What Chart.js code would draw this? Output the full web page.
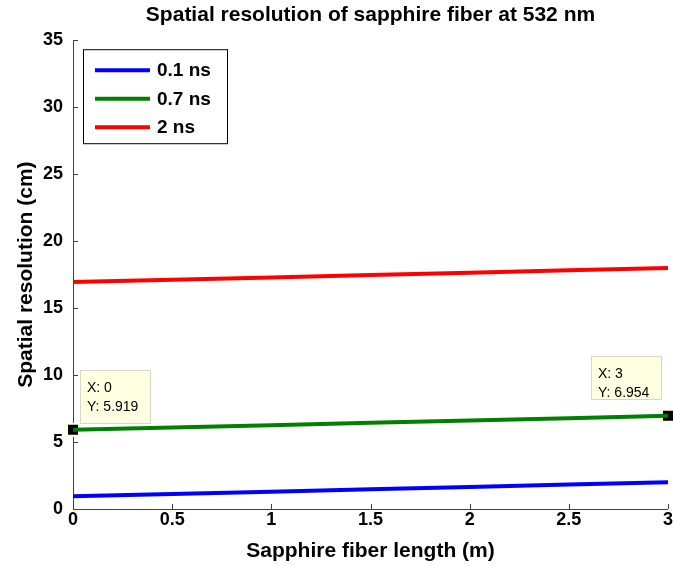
<!DOCTYPE html>
<html>
<head>
<meta charset="utf-8">
<script src="https://cdn.jsdelivr.net/npm/chart.js@4"></script>
<style>
body { margin: 0; background: #fff; }
#wrap { width: 673px; height: 566px; }
</style>
</head>
<body>
<div id="wrap"><canvas id="fiber" width="673" height="566"></canvas></div>
<script>
// fiber length (m) and spatial resolution (cm) per pulse width
const lengths = [0, 0.5, 1, 1.5, 2, 2.5, 3];
const res01ns = [0.95, 1.12, 1.29, 1.47, 1.64, 1.82, 1.99];
const res07ns = [5.919, 6.09, 6.26, 6.44, 6.61, 6.78, 6.954];
const res2ns = [16.95, 17.12, 17.29, 17.47, 17.64, 17.82, 17.99];
const seriesNames = ['0.1 ns', '0.7 ns', '2 ns'];
const seriesColors = ['#0000ff', '#008000', '#ff0000'];

// data cursor points on the 0.7 ns curve
const tipX = [0, 3];
const tipY = [5.919, 6.954];

const FONT = "'Liberation Sans', Arial, sans-serif";
const boldFont = (size) => ({ family: FONT, size: size, weight: 'bold' });

function xy(xs, ys) {
    return xs.map((x, i) => ({ x: x, y: ys[i] }));
}

// axis lines with inward ticks, no box; x labels drawn here so the
// last one may run off the canvas edge instead of shrinking the plot
const axesPlugin = {
    id: 'matlabAxes',
    beforeDatasetsDraw(chart) {
        const ctx = chart.ctx;
        const { left, right, top, bottom } = chart.chartArea;
        const xs = chart.scales.x, ys = chart.scales.y;
        ctx.save();
        ctx.strokeStyle = '#404040';
        ctx.lineWidth = 1;
        ctx.beginPath();
        ctx.moveTo(left + 0.5, top);
        ctx.lineTo(left + 0.5, bottom + 0.5);
        ctx.lineTo(right, bottom + 0.5);
        ctx.stroke();
        ctx.beginPath();
        xs.ticks.forEach(t => {
            const px = Math.round(xs.getPixelForValue(t.value)) + 0.5;
            ctx.moveTo(px, bottom);
            ctx.lineTo(px, bottom - 5);
        });
        ys.ticks.forEach(t => {
            const py = Math.round(ys.getPixelForValue(t.value)) + 0.5;
            ctx.moveTo(left, py);
            ctx.lineTo(left + 5, py);
        });
        ctx.stroke();
        ctx.fillStyle = '#000';
        ctx.font = 'bold 18px ' + FONT;
        ctx.textAlign = 'center';
        ctx.textBaseline = 'alphabetic';
        xs.ticks.forEach(t => {
            ctx.fillText(String(t.value), xs.getPixelForValue(t.value), bottom + 16);
        });
        ctx.restore();
    }
};

// legend box in the upper left corner of the axes
const legendPlugin = {
    id: 'boxLegend',
    afterDraw(chart) {
        const ctx = chart.ctx;
        const { left, top } = chart.chartArea;
        const bx = left + 10, by = top + 9, bw = 144, bh = 94;
        ctx.save();
        ctx.fillStyle = '#fff';
        ctx.fillRect(bx, by, bw, bh);
        ctx.strokeStyle = '#000';
        ctx.lineWidth = 1;
        ctx.strokeRect(bx + 0.5, by + 0.5, bw, bh);
        ctx.font = 'bold 19px ' + FONT;
        ctx.textBaseline = 'middle';
        seriesNames.forEach((name, i) => {
            const ly = by + 21 + i * 28.5;
            ctx.strokeStyle = seriesColors[i];
            ctx.lineWidth = 4;
            ctx.beginPath();
            ctx.moveTo(bx + 12, ly);
            ctx.lineTo(bx + 67, ly);
            ctx.stroke();
            ctx.fillStyle = '#000';
            ctx.fillText(name, bx + 74, ly + 1);
        });
        ctx.restore();
    }
};

// data tip boxes next to the cursor markers
const tipPlugin = {
    id: 'dataTips',
    afterDraw(chart) {
        const ctx = chart.ctx;
        const xs = chart.scales.x, ys = chart.scales.y;
        const boxes = [
            { dx: 7, dy: -60, w: 70, h: 53, alignRight: false },
            { dx: -7, dy: -60, w: 70, h: 43, alignRight: true }
        ];
        ctx.save();
        ctx.font = '14px ' + FONT;
        ctx.textBaseline = 'middle';
        tipX.forEach((x, i) => {
            const px = xs.getPixelForValue(x), py = ys.getPixelForValue(tipY[i]);
            const b = boxes[i];
            const bx = Math.round(b.alignRight ? px + b.dx - b.w : px + b.dx);
            const by = Math.round(py + b.dy);
            ctx.fillStyle = '#ffffe1';
            ctx.fillRect(bx, by, b.w, b.h);
            ctx.strokeStyle = '#d8d8c8';
            ctx.lineWidth = 1;
            ctx.strokeRect(bx + 0.5, by + 0.5, b.w, b.h);
            ctx.fillStyle = '#000';
            ctx.fillText('X: ' + x, bx + 7, by + 18);
            ctx.fillText('Y: ' + tipY[i].toFixed(3), bx + 7, by + 37);
        });
        ctx.restore();
    }
};

const datasets = [res01ns, res07ns, res2ns].map((vals, i) => ({
    label: seriesNames[i],
    data: xy(lengths, vals),
    borderColor: seriesColors[i],
    borderWidth: 4,
    pointRadius: 0,
    fill: false,
    tension: 0
}));

datasets.push({
    label: 'cursor',
    data: xy(tipX, tipY),
    showLine: false,
    pointStyle: 'rect',
    pointRadius: 8.5,
    backgroundColor: '#000',
    borderColor: '#ffffe1',
    borderWidth: 2,
    clip: false
});

new Chart(document.getElementById('fiber'), {
    type: 'line',
    data: { datasets: datasets },
    options: {
        responsive: false,
        animation: false,
        layout: { autoPadding: false, padding: { left: 0, right: 5, top: 0, bottom: 0 } },
        plugins: {
            legend: { display: false },
            tooltip: { enabled: false },
            title: {
                display: true,
                fullSize: false,
                text: 'Spatial resolution of sapphire fiber at 532 nm',
                color: '#000',
                font: boldFont(21),
                padding: { top: 3, bottom: 12 }
            }
        },
        scales: {
            x: {
                type: 'linear',
                min: 0,
                max: 3,
                ticks: { stepSize: 0.5, display: false },
                grid: { display: false, drawTicks: false },
                border: { display: false },
                title: {
                    display: true,
                    text: 'Sapphire fiber length (m)',
                    color: '#000',
                    font: boldFont(21),
                    padding: { top: 0, bottom: 2 }
                },
                afterFit(s) { s.height = 57; }
            },
            y: {
                min: 0,
                max: 35,
                ticks: { stepSize: 5, color: '#000', font: boldFont(18), padding: 10 },
                grid: { display: false, drawTicks: false },
                border: { display: false },
                title: {
                    display: true,
                    text: 'Spatial resolution (cm)',
                    color: '#000',
                    font: boldFont(21),
                    padding: { top: 14, bottom: 0 }
                },
                afterFit(s) { s.width = 73; s.paddingTop = 0; s.paddingBottom = 0; }
            }
        }
    },
    plugins: [axesPlugin, legendPlugin, tipPlugin]
});
</script>
</body>
</html>
